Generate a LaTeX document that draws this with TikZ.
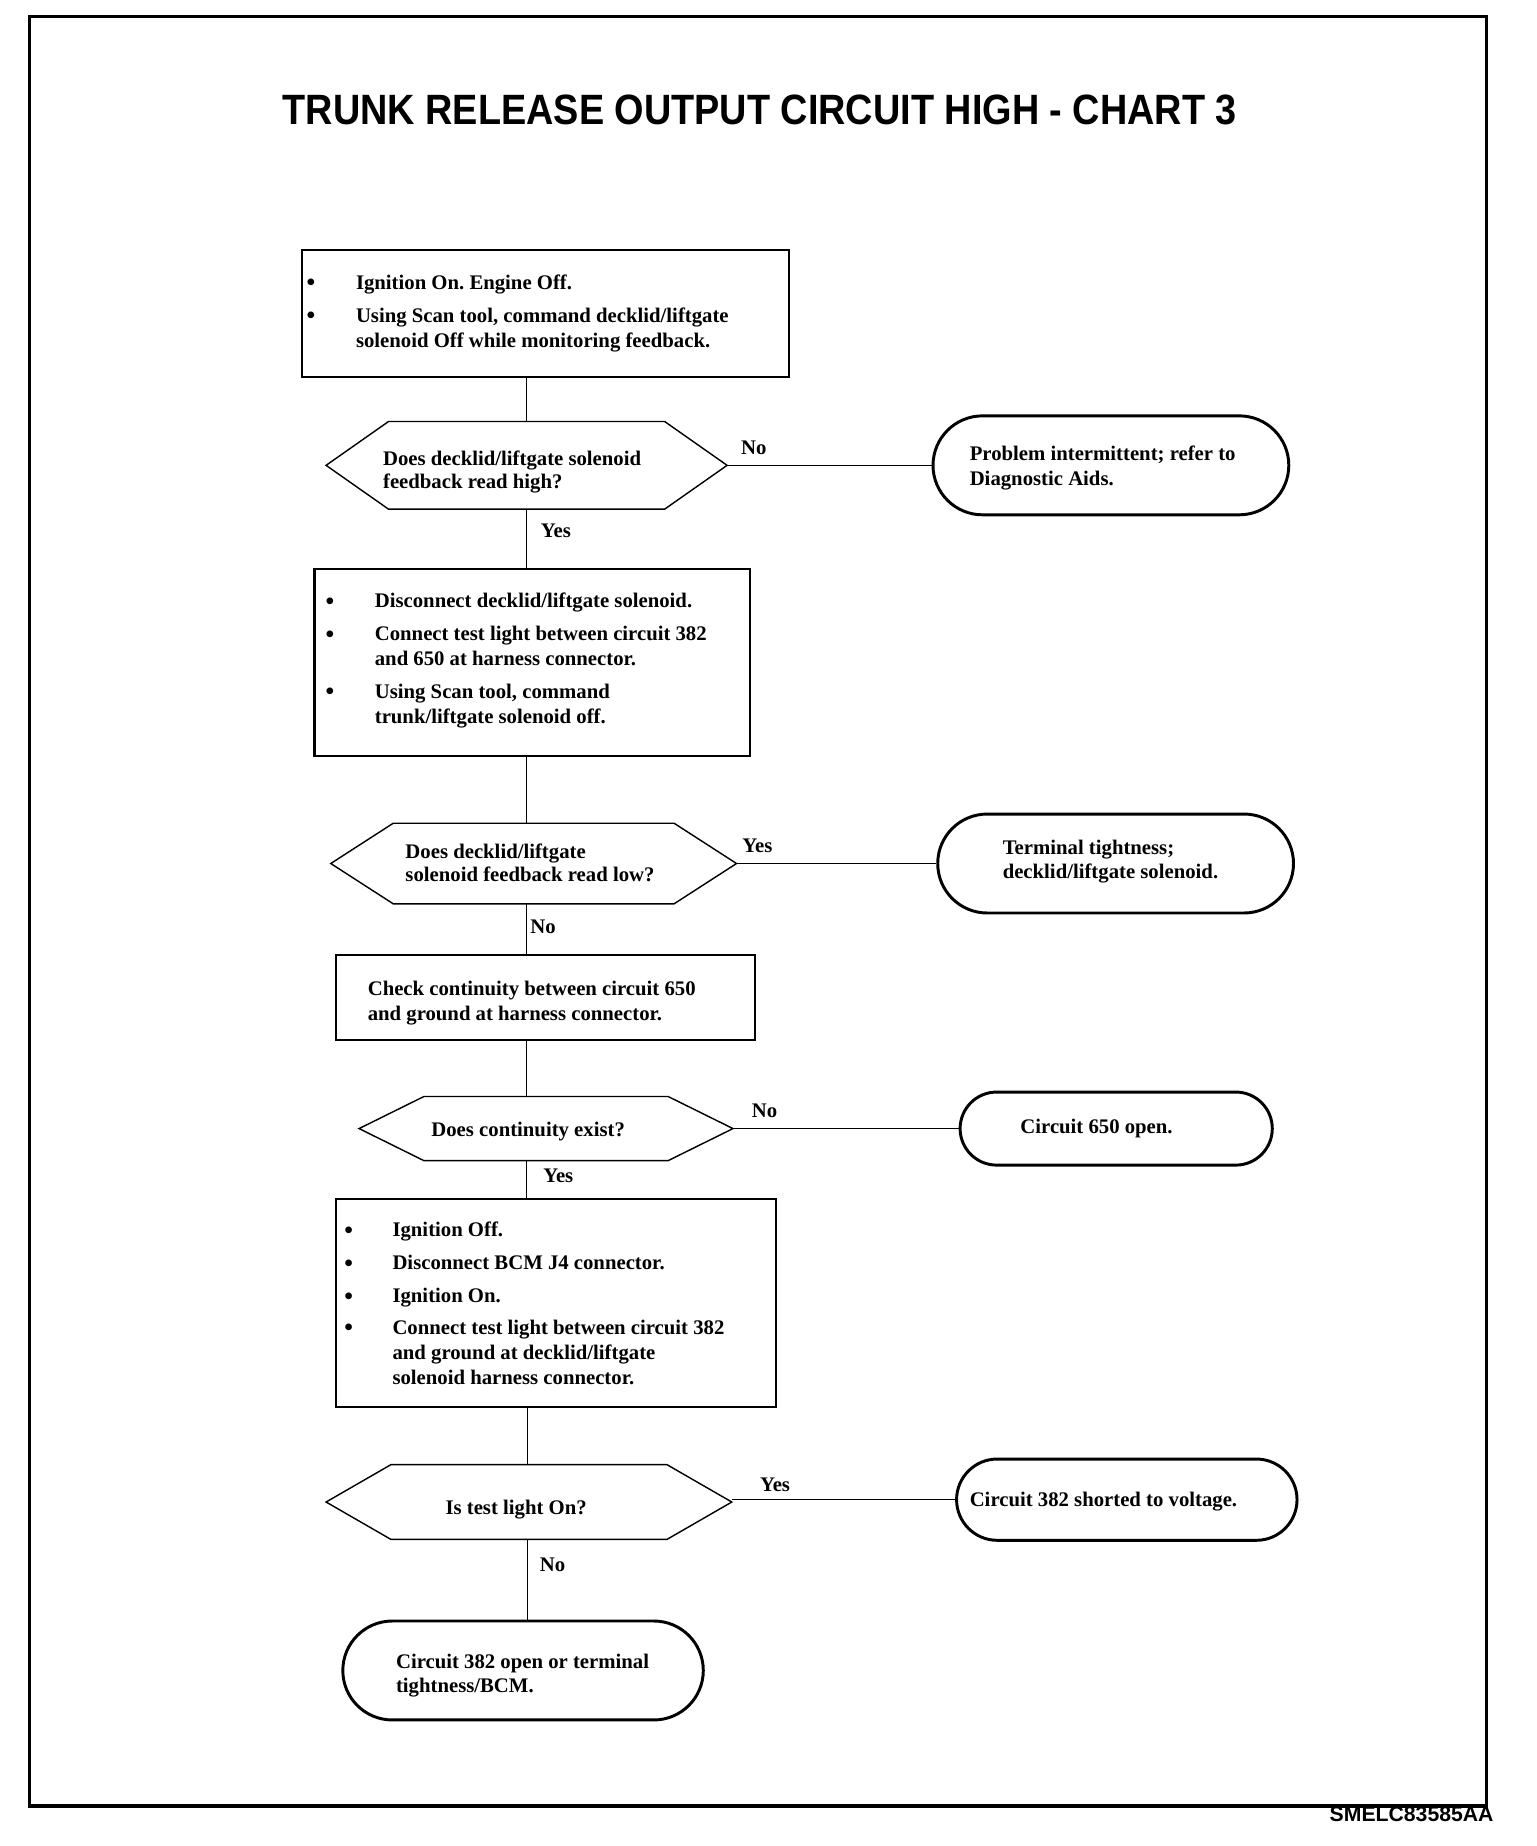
\documentclass[tikz,border=0pt]{standalone}
\usepackage{fontspec}
\setmainfont{Liberation Serif}
\newfontfamily\titlefont{Liberation Sans}
\usetikzlibrary{calc}
\frenchspacing
\newcommand\ml[1]{\begin{tabular}[t]{@{}l@{}}#1\end{tabular}}
\newcommand\hexa[2]{\draw[hexline] (#1.west) -- ([xshift=#2pt]#1.north west) -- ([xshift=-#2pt]#1.north east) -- (#1.east) -- ([xshift=-#2pt]#1.south east) -- ([xshift=#2pt]#1.south west) -- cycle;}
\begin{document}
\begin{tikzpicture}[x=1pt,y=-1pt,
  box/.style={draw, line width=1.8pt, inner sep=0},
  term/.style={draw, line width=2.5pt, inner sep=0},
  hexnode/.style={inner sep=0},
  hexline/.style={line width=1.2pt},
  conn/.style={line width=1.2pt},
  txt/.style={anchor=base west, inner sep=0, font=\bfseries\fontsize{17.6}{21}\selectfont},
  dtxt/.style={anchor=base west, inner sep=0, font=\bfseries\fontsize{17.6}{19.5}\selectfont},
  bul/.style={anchor=base, inner sep=0, font=\bfseries\fontsize{21}{21}\selectfont},
  lbl/.style={anchor=base west, inner sep=0, font=\bfseries\fontsize{17.6}{21}\selectfont}]
\useasboundingbox (0,0) rectangle (1304,1567);
\fill[white] (0,0) rectangle (1304,1567);
% frame
\node[draw, line width=2.8pt, inner sep=0, minimum width=1237, minimum height=1519] (frame) at (643.5,773.5) {};
\node[inner sep=0] (title) at (645,93) {\titlefont\bfseries\fontsize{36}{40}\selectfont\scalebox{0.892}[1]{TRUNK RELEASE OUTPUT CIRCUIT HIGH - CHART 3}};
\node[anchor=east, inner sep=0] (code) at (1268,1540) {\titlefont\bfseries\fontsize{18}{20}\selectfont SMELC83585AA};
\coordinate (spine) at (447,0);
\coordinate (spineb) at (448,0);

% Box 1
\node[box, minimum width=414, minimum height=108] (b1) at (463,266) {};
\node[bul] (b1u1) at (264,247) {•};
\node[bul] (b1u2) at (264,275) {•};
\node[txt] (b1t1) at (302,246) {\ml{Ignition On. Engine Off.}};
\node[txt] (b1t2) at (302,274) {\ml{Using Scan tool, command decklid/liftgate\\solenoid Off while monitoring feedback.}};

% Decision 1
\node[hexnode, minimum width=340, minimum height=74] (d1) at (447,395) {};
\hexa{d1}{53}
\node[dtxt] (d1t) at (325,395) {\ml{Does decklid/liftgate solenoid\\feedback read high?}};
\node[term, minimum width=302, minimum height=84, rounded corners=42pt] (t1) at (943,395) {};
\node[txt] (t1t) at (823,391) {\ml{Problem intermittent; refer to\\Diagnostic Aids.}};

% Box 2
\node[box, minimum width=370, minimum height=159] (b2) at (452,562.5) {};
\node[bul] (b2u1) at (280,517) {•};
\node[bul] (b2u2) at (280,545) {•};
\node[bul] (b2u3) at (280,594) {•};
\node[txt] (b2t1) at (318,516) {\ml{Disconnect decklid/liftgate solenoid.}};
\node[txt] (b2t2) at (318,544) {\ml{Connect test light between circuit 382\\and 650 at harness connector.}};
\node[txt] (b2t3) at (318,593) {\ml{Using Scan tool, command\\trunk/liftgate solenoid off.}};

% Decision 2
\node[hexnode, minimum width=344, minimum height=68] (d2) at (453,733) {};
\hexa{d2}{53}
\node[dtxt] (d2t) at (344,729) {\ml{Does decklid/liftgate\\solenoid feedback read low?}};
\node[term, minimum width=302, minimum height=84, rounded corners=42pt] (t2) at (947,733) {};
\node[txt] (t2t) at (851,725) {\ml{Terminal tightness;\\decklid/liftgate solenoid.}};

% Box 3
\node[box, minimum width=356, minimum height=72] (b3) at (463,847) {};
\node[txt] (b3t) at (312,845) {\ml{Check continuity between circuit 650\\and ground at harness connector.}};

% Decision 3
\node[hexnode, minimum width=317, minimum height=54] (d3) at (463.5,958) {};
\hexa{d3}{55}
\node[dtxt] (d3t) at (366,965) {Does continuity exist?};
\node[term, minimum width=265, minimum height=62, rounded corners=31pt] (t3) at (947.5,958) {};
\node[txt] (t3t) at (866,962) {Circuit 650 open.};

% Box 4
\node[box, minimum width=374, minimum height=176] (b4) at (472,1106) {};
\node[bul] (b4u1) at (296,1051) {•};
\node[bul] (b4u2) at (296,1079) {•};
\node[bul] (b4u3) at (296,1107) {•};
\node[bul] (b4u4) at (296,1134) {•};
\node[txt] (b4t1) at (333,1050) {\ml{Ignition Off.}};
\node[txt] (b4t2) at (333,1078) {\ml{Disconnect BCM J4 connector.}};
\node[txt] (b4t3) at (333,1106) {\ml{Ignition On.}};
\node[txt] (b4t4) at (333,1133) {\ml{Connect test light between circuit 382\\and ground at decklid/liftgate\\solenoid harness connector.}};

% Decision 4
\node[hexnode, minimum width=344, minimum height=63] (d4) at (449,1275) {};
\hexa{d4}{55}
\node[dtxt] (d4t) at (378,1286) {Is test light On?};
\node[term, minimum width=289, minimum height=69, rounded corners=34.5pt] (t4) at (956.5,1273) {};
\node[txt] (t4t) at (823,1279) {Circuit 382 shorted to voltage.};

% Terminal 5
\node[term, minimum width=306, minimum height=84, rounded corners=42pt] (t5) at (444,1418) {};
\node[txt] (t5t) at (336,1416) {\ml{Circuit 382 open or terminal\\tightness/BCM.}};

% connectors
\draw[conn] (b1.south -| spine) -- (d1.north -| spine);
\draw[conn] (d1.south -| spine) -- (b2.north -| spine);
\draw[conn] (b2.south -| spine) -- (d2.north -| spine);
\draw[conn] (d2.south -| spine) -- (b3.north -| spine);
\draw[conn] (b3.south -| spine) -- (d3.north -| spine);
\draw[conn] (d3.south -| spine) -- (b4.north -| spine);
\draw[conn] (b4.south -| spineb) -- (d4.north -| spineb);
\draw[conn] (d4.south -| spineb) -- (t5.north -| spineb);
\draw[conn] (d1.east) -- (t1.west);
\draw[conn] (d2.east) -- (t2.west);
\draw[conn] (d3.east) -- (t3.west);
\draw[conn] (d4.east |- t4.west) -- (t4.west);

% labels
\node[lbl] (l1) at (629,386) {No};
\node[lbl] (l2) at (459,456) {Yes};
\node[lbl] (l3) at (630,724) {Yes};
\node[lbl] (l4) at (450,792) {No};
\node[lbl] (l5) at (638,949) {No};
\node[lbl] (l6) at (461,1004) {Yes};
\node[lbl] (l7) at (645,1266) {Yes};
\node[lbl] (l8) at (458,1334) {No};
\end{tikzpicture}
\end{document}
